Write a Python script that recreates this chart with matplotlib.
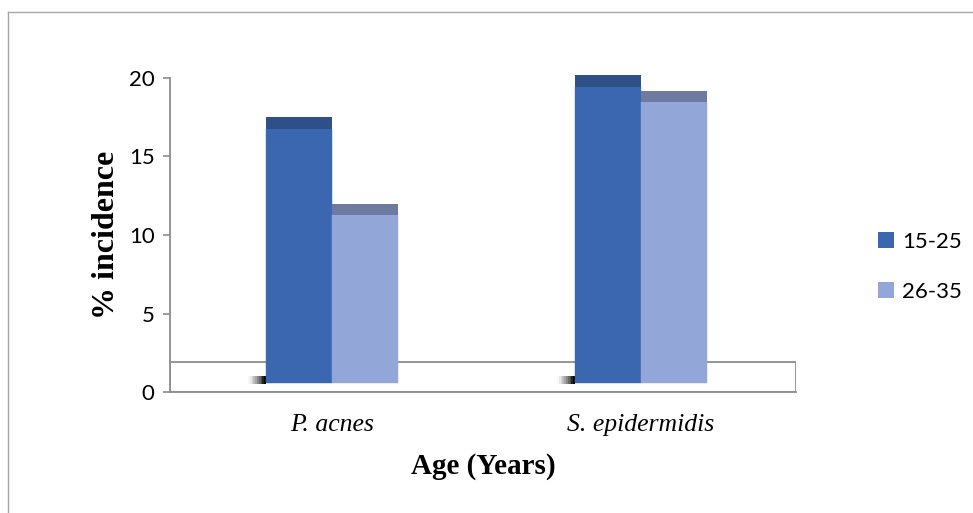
import matplotlib.pyplot as plt
from matplotlib.patches import Patch, Rectangle
from matplotlib.lines import Line2D
import numpy as np

categories = ['P. acnes', 'S. epidermidis']
groups = ['15-25', '26-35']
age_15_25 = [17.5, 20.2]
age_26_35 = [12.0, 19.2]
yticks = [0, 5, 10, 15, 20]

front_colors = ['#3b66b0', '#93a6d8']
top_colors = ['#2e4f88', '#6c7b9f']
depth = 0.75      # height of the dark top face
base = 0.6        # bars stand on the floor a bit above 0
floor_h = 1.9
width = 0.2136


def main():
    fig = plt.figure(figsize=(9.73, 5.13), dpi=100)
    ax = fig.add_axes([170/973, 1-392/513, 626/973, 314/513])

    x = np.arange(len(categories))
    # floor of the 3d chart
    ax.add_patch(Rectangle((-0.524, 0), 2.026, floor_h, facecolor='white',
                           edgecolor='#8c8c8c', lw=1.3, zorder=1))

    for i, vals in enumerate([age_15_25, age_26_35]):
        xs = x + (i - 0.5) * width
        vals = np.array(vals)
        ax.bar(xs, vals - depth - base, width, bottom=base, color=front_colors[i],
               zorder=3, clip_on=False, edgecolor=front_colors[i], lw=0.3)
        ax.bar(xs, depth, width, bottom=vals - depth, color=top_colors[i],
               zorder=3, clip_on=False, lw=0)
        if i == 0:
            # little shadow at the foot of the front bars
            n = 10
            step = 0.058 / n
            for k in range(n):
                a = ((k + 1) / n) ** 1.5
                ax.bar(xs - width/2 - 0.058 + k*step, 0.5, step, bottom=0.5,
                       align='edge', color='black', alpha=a, lw=0, zorder=2)

    ax.set_xlim(-0.524, 1.502)
    ax.set_ylim(0, 20)
    ax.set_yticks(yticks)
    ax.set_xticks(x)
    ax.set_xticklabels(categories, fontfamily='Liberation Serif', style='italic', fontsize=18.5)
    ax.tick_params(axis='x', length=0, pad=16)
    ax.tick_params(axis='y', length=5, width=1.2, color='#8c8c8c', labelsize=16, pad=6)
    for lab in ax.get_yticklabels():
        lab.set_fontfamily('Lato')

    for s in ['top', 'right']:
        ax.spines[s].set_visible(False)
    ax.spines['left'].set_color('#8c8c8c')
    ax.spines['left'].set_linewidth(1.3)
    ax.spines['bottom'].set_color('#8c8c8c')
    ax.spines['bottom'].set_linewidth(1.3)

    ax.set_ylabel('% incidence', fontfamily='Liberation Serif', fontweight='bold',
                  fontsize=23, labelpad=6)
    ax.set_xlabel('Age (Years)', fontfamily='Liberation Serif', fontweight='bold',
                  fontsize=21, labelpad=12)

    handles = [Patch(facecolor=c, edgecolor='none') for c in front_colors]
    fig.legend(handles, groups, loc='center left', bbox_to_anchor=(858/973, 1-267/513),
               frameon=False, prop={'family': 'Lato', 'size': 16},
               handlelength=0.7, handleheight=0.7, handletextpad=0.4, labelspacing=1.35)

    # outer chart border
    fig.add_artist(Line2D([8/973, 1], [1-12/513, 1-12/513], color='#a6a6a6', lw=1))
    fig.add_artist(Line2D([8/973, 8/973], [0, 1-12/513], color='#a6a6a6', lw=1))

    fig.savefig('out.png', dpi=100)


if __name__ == "__main__":
    main()
